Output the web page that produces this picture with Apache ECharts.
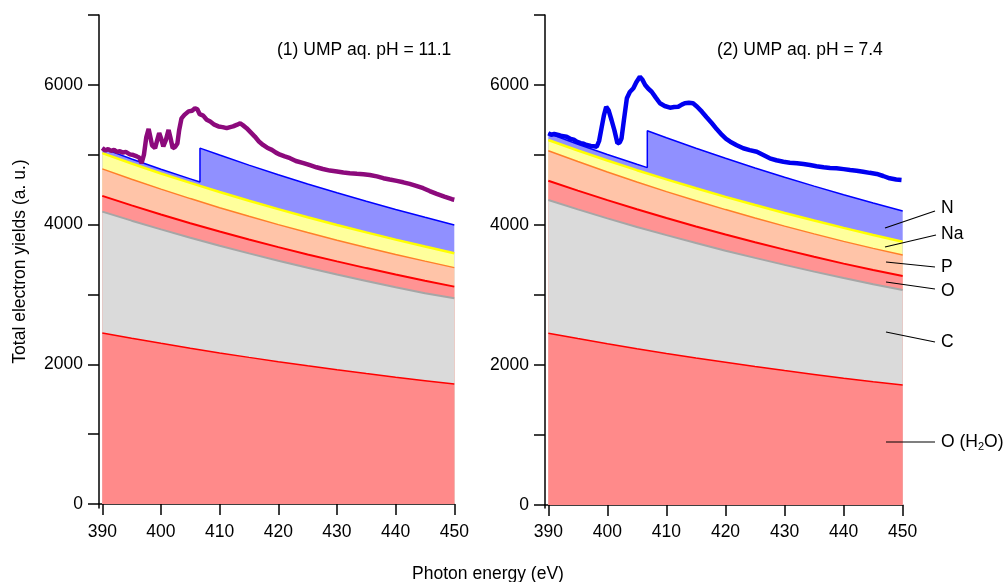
<!DOCTYPE html>
<html>
<head>
<meta charset="utf-8">
<script src="https://cdn.jsdelivr.net/npm/echarts@6/dist/echarts.min.js"></script>
<style>
html,body{margin:0;padding:0;background:#fff;}
#c{width:1004px;height:582px;}
</style>
</head>
<body>
<div id="c"></div>
<script>
// ---------- data ----------
const compE = [390, 395, 400, 405, 410, 415, 420, 425, 430, 435, 440, 445, 450];
const xTicks = [390, 400, 410, 420, 430, 440, 450];
const yTicks = [0, 1000, 2000, 3000, 4000, 5000, 6000, 7000];
const yLabels = [0, 2000, 4000, 6000];

// panel 1: cumulative tops of each stacked contribution
const p1_H2O = [2449, 2373, 2300, 2230, 2163, 2099, 2038, 1979, 1922, 1868, 1816, 1766, 1717];
const p1_C   = [4186, 4056, 3931, 3812, 3698, 3588, 3483, 3383, 3286, 3193, 3104, 3018, 2946];
const p1_O   = [4411, 4275, 4145, 4020, 3900, 3786, 3677, 3573, 3473, 3377, 3285, 3197, 3112];
const p1_P   = [4797, 4650, 4508, 4372, 4242, 4118, 3999, 3886, 3777, 3673, 3573, 3477, 3384];
const p1_Na  = [5022, 4874, 4732, 4597, 4466, 4341, 4221, 4105, 3994, 3888, 3785, 3686, 3590];
const p1_NE  = [390, 395, 400, 405, 406.65, 406.65, 410, 415, 420, 425, 430, 435, 440, 445, 450];
const p1_N   = [5095, 4939, 4792, 4654, 4609, 5094, 4995, 4851, 4714, 4582, 4455, 4333, 4216, 4104, 3995];

// panel 2
const p2_H2O = [2455, 2378, 2304, 2233, 2165, 2100, 2038, 1978, 1920, 1865, 1812, 1762, 1714];
const p2_C   = [4357, 4223, 4095, 3972, 3855, 3742, 3633, 3530, 3430, 3334, 3242, 3154, 3071];
const p2_O   = [4633, 4491, 4355, 4224, 4099, 3979, 3863, 3753, 3648, 3546, 3448, 3356, 3271];
const p2_P   = [5061, 4906, 4757, 4614, 4477, 4346, 4220, 4100, 3984, 3873, 3766, 3666, 3571];
const p2_Na  = [5214, 5064, 4921, 4783, 4651, 4525, 4402, 4285, 4172, 4064, 3959, 3858, 3761];
const p2_NE  = [390, 395, 400, 405, 406.76, 406.76, 410, 415, 420, 425, 430, 435, 440, 445, 450];
const p2_N   = [5310, 5154, 5008, 4867, 4820, 5347, 5246, 5097, 4953, 4815, 4682, 4555, 4433, 4315, 4200];

// measured spectra
const s1E = [390,390.5,391,391.5,392,392.5,393,393.5,394,394.7,395.3,395.9,396.3,396.7,397.1,397.5,397.9,398.2,398.5,399.0,399.4,399.7,400.0,400.4,400.8,401.3,401.6,402.0,402.4,402.8,403.1,403.5,404.0,404.7,405.3,405.8,406.2,406.6,407.2,407.8,408.4,409.1,409.8,410.5,411.2,411.8,412.3,413,413.5,414,414.6,415.3,416,416.7,417.4,418.1,418.9,419.6,420.3,421.1,422,423,424.3,425.4,426.5,427.6,428.8,430,431.1,432.2,433.4,434.5,435.6,436.8,437.9,439,440.2,441.3,442.4,443.5,444.7,445.8,447,448.3,449.6,450];
const s1Y = [5095,5060,5080,5055,5070,5040,5050,5030,5040,5005,4995,4975,4960,4880,5000,5250,5370,5250,5130,5095,5220,5310,5240,5120,5200,5355,5250,5095,5110,5160,5350,5520,5570,5620,5630,5665,5650,5580,5560,5500,5475,5430,5405,5395,5380,5395,5405,5430,5450,5420,5380,5320,5260,5190,5140,5100,5070,5030,5000,4975,4950,4910,4880,4850,4820,4795,4773,4760,4745,4735,4726,4720,4710,4690,4664,4645,4625,4605,4583,4555,4521,4480,4440,4400,4363,4355];
const s2E = [390,390.5,391,391.7,392.3,393.1,393.8,394.3,394.8,395.5,396,396.5,397.2,397.7,398.2,398.6,399.0,399.4,399.8,400.2,400.7,401.2,401.7,402.1,402.4,402.8,403.3,403.8,404.4,404.9,405.5,405.9,406.4,406.9,407.5,408.2,408.9,409.7,410.6,411.3,412,412.6,413.1,413.8,414.5,415.2,416,416.8,417.7,418.5,419.4,420.1,420.8,421.9,423,424.1,425.3,426.4,427.5,428.6,429.8,430.9,432.1,433.2,434.3,435.4,436.6,437.7,438.8,440,441.1,442.2,443.3,444.4,445.6,446.7,447.8,448.9,449.8];
const s2Y = [5310,5290,5300,5286,5270,5261,5230,5220,5190,5170,5160,5143,5130,5125,5119,5200,5381,5560,5690,5640,5500,5350,5167,5180,5239,5500,5810,5900,5953,6040,6119,6080,6000,5950,5904,5820,5739,5700,5676,5685,5690,5720,5739,5745,5739,5690,5619,5540,5453,5370,5286,5230,5190,5140,5096,5070,5047,5000,4953,4925,4904,4890,4881,4870,4857,4840,4824,4815,4810,4798,4786,4775,4761,4745,4729,4700,4667,4650,4643];

const titles = ['(1) UMP aq. pH = 11.1', '(2) UMP aq. pH = 7.4'];
const bandLabels = ['N', 'Na', 'P', 'O', 'C', 'O (H{s|2}O)'];
const xName = 'Photon energy (eV)';
const yName = 'Total electron yields (a. u.)';

// ---------- styling ----------
const FONT = 'Liberation Sans, Arial, sans-serif';
const FS = 17.5;
const colors = {
  H2O: {fill: '#ff8a8a', line: '#ff0000', w: 1.5},
  C:   {fill: '#dadada', line: '#a6a6a6', w: 2},
  O:   {fill: '#ff9393', line: '#ff0000', w: 2},
  P:   {fill: '#ffc4a8', line: '#ff7f2a', w: 1.5},
  Na:  {fill: '#ffff9c', line: '#ffff00', w: 2.5},
  N:   {fill: '#9090ff', line: '#0000ff', w: 1.5}
};

function zip(a, b) { return a.map((v, i) => [v, b[i]]); }
const plain = v => String(v);

function area(name, xs, ys, idx, c) {
  return {
    name: name, type: 'line', xAxisIndex: idx, yAxisIndex: idx,
    data: zip(xs, ys), symbol: 'none', smooth: false,
    lineStyle: {color: c.line, width: c.w},
    areaStyle: {color: c.fill, opacity: 1},
    silent: true
  };
}

function xAxis(idx, min) {
  return {
    type: 'value', gridIndex: idx, min: min, max: 450,
    axisLine: {show: true, lineStyle: {color: '#000', width: 1.5}},
    axisTick: {show: true, inside: false, length: 11, lineStyle: {color: '#000', width: 1.5}, customValues: xTicks},
    axisLabel: {show: true, margin: 15, color: '#000', fontSize: FS, fontFamily: FONT, customValues: xTicks, formatter: plain},
    splitLine: {show: false}
  };
}
function yAxis(idx, min, withName) {
  const a = {
    type: 'value', gridIndex: idx, min: min, max: 7000,
    axisLine: {show: true, onZero: false, lineStyle: {color: '#000', width: 1.5}},
    axisTick: {show: true, inside: false, length: 11, lineStyle: {color: '#000', width: 1.5}, customValues: yTicks},
    axisLabel: {show: true, margin: 16, color: '#000', fontSize: FS, fontFamily: FONT, customValues: yLabels, formatter: plain},
    splitLine: {show: false}
  };
  if (withName) {
    a.name = yName;
    a.nameLocation = 'middle';
    a.nameGap = 70;
    a.nameTextStyle = {color: '#000', fontSize: FS, fontFamily: FONT};
  }
  return a;
}

const series = [
  area('N', p1_NE, p1_N, 0, colors.N),
  area('Na', compE, p1_Na, 0, colors.Na),
  area('P', compE, p1_P, 0, colors.P),
  area('O', compE, p1_O, 0, colors.O),
  area('C', compE, p1_C, 0, colors.C),
  area('O (H2O)', compE, p1_H2O, 0, colors.H2O),
  {name: 'UMP pH 11.1', type: 'line', xAxisIndex: 0, yAxisIndex: 0, data: zip(s1E, s1Y),
   symbol: 'none', lineStyle: {color: '#8c0a7c', width: 4.5}, silent: true},
  area('N', p2_NE, p2_N, 1, colors.N),
  area('Na', compE, p2_Na, 1, colors.Na),
  area('P', compE, p2_P, 1, colors.P),
  area('O', compE, p2_O, 1, colors.O),
  area('C', compE, p2_C, 1, colors.C),
  area('O (H2O)', compE, p2_H2O, 1, colors.H2O),
  {name: 'UMP pH 7.4', type: 'line', xAxisIndex: 1, yAxisIndex: 1, data: zip(s2E, s2Y),
   symbol: 'none', lineStyle: {color: '#0000f0', width: 4.5}, silent: true}
];

// annotation leader lines and labels (panel 2, right side)
const leaders = [
  [885, 228, 935, 211, 208],
  [885, 247, 936, 235, 234],
  [886, 262, 935, 267, 267],
  [886, 282, 935, 289, 291],
  [886, 332, 935, 342, 342],
  [886, 442, 935, 442, 442]
];
const graphics = [];
leaders.forEach((l, i) => {
  graphics.push({type: 'line', shape: {x1: l[0], y1: l[1], x2: l[2], y2: l[3]},
    style: {stroke: '#000', lineWidth: 1.2}, silent: true, z: 100});
  graphics.push({type: 'text', x: 941, y: l[4], silent: true, z: 100,
    style: {text: bandLabels[i], fill: '#000', font: FS + 'px ' + FONT, align: 'left', verticalAlign: 'middle',
      rich: {s: {fontSize: 11, fontFamily: FONT, fill: '#000', padding: [9, 0, 0, 0]}}}});
});
graphics.push({type: 'text', x: 277, y: 50, silent: true,
  style: {text: titles[0], fill: '#000', font: FS + 'px ' + FONT, align: 'left', verticalAlign: 'middle'}});
graphics.push({type: 'text', x: 717, y: 50, silent: true,
  style: {text: titles[1], fill: '#000', font: FS + 'px ' + FONT, align: 'left', verticalAlign: 'middle'}});
graphics.push({type: 'text', x: 488, y: 574, silent: true,
  style: {text: xName, fill: '#000', font: FS + 'px ' + FONT, align: 'center', verticalAlign: 'middle'}});

const chart = echarts.init(document.getElementById('c'), null, {renderer: 'canvas'});
chart.setOption({
  animation: false,
  backgroundColor: '#fff',
  grid: [
    {left: 99, top: 15, width: 355.3, height: 493},
    {left: 545, top: 15, width: 357.7, height: 493}
  ],
  xAxis: [xAxis(0, 389.44), xAxis(1, 389.44)],
  yAxis: [yAxis(0, -57, true), yAxis(1, -43, false)],
  series: series,
  graphic: graphics
});
</script>
</body>
</html>
